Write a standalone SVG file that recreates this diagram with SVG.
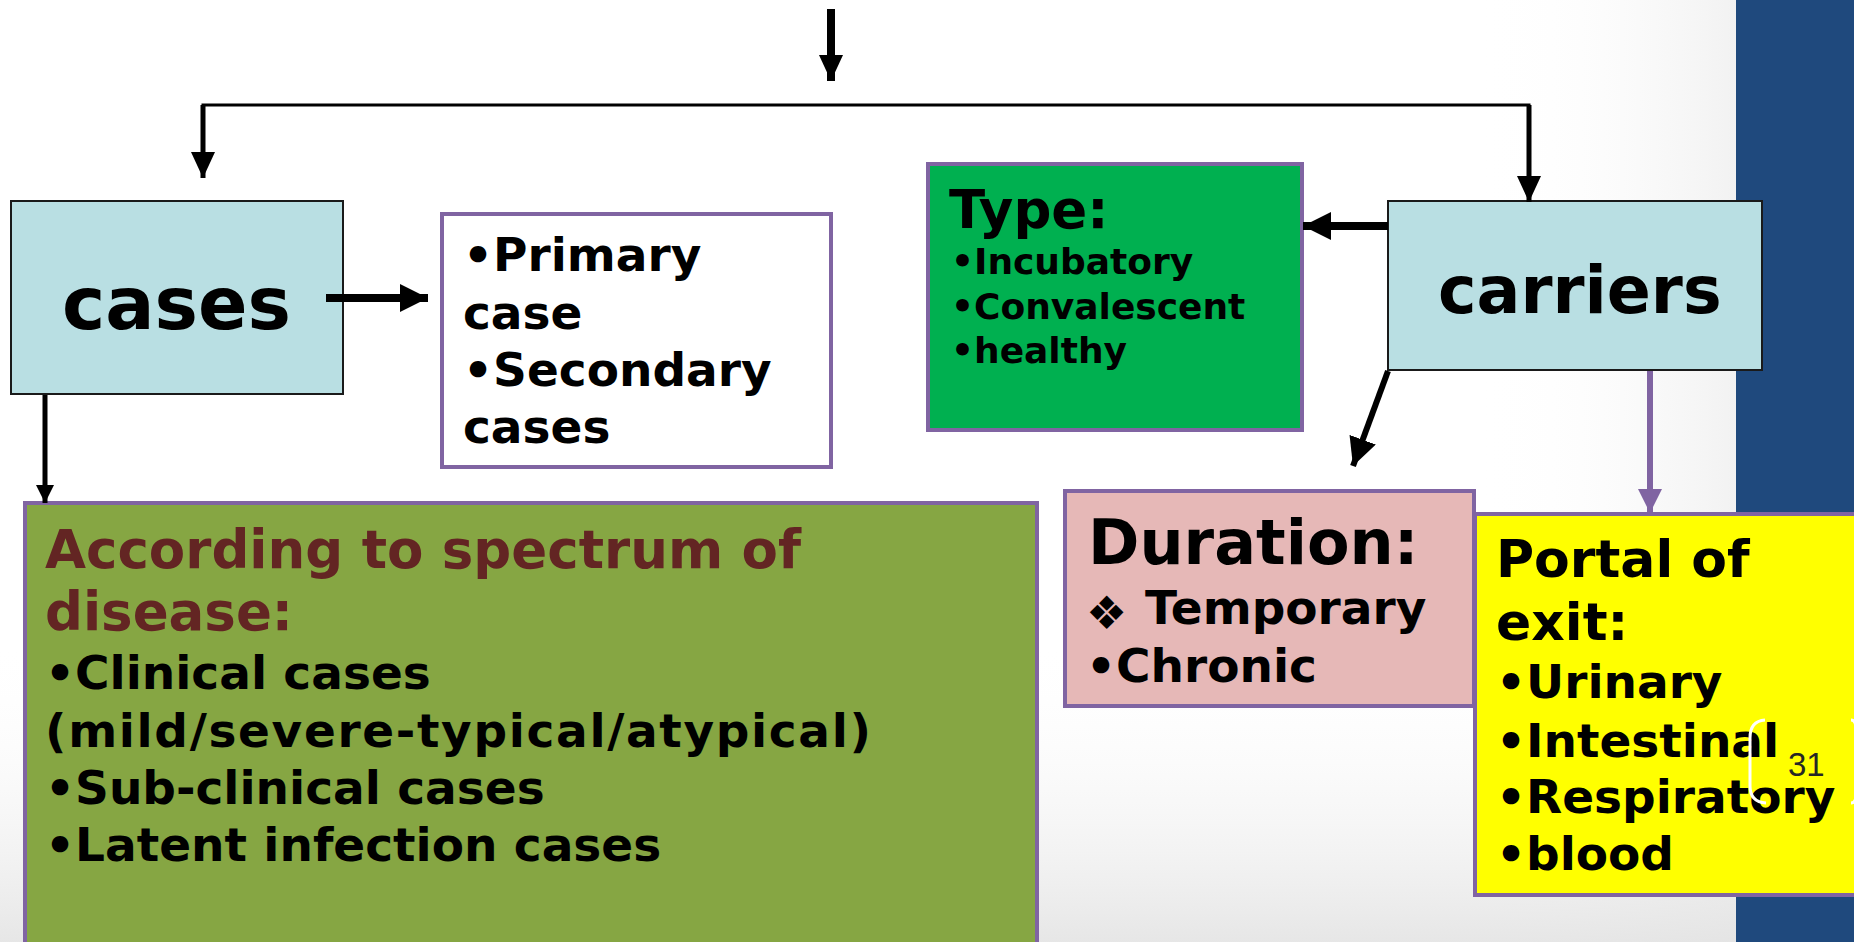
<svg xmlns="http://www.w3.org/2000/svg" width="1854" height="942" viewBox="0 0 1854 942">
  <defs>
    <linearGradient id="bgRight" x1="0" y1="0" x2="1" y2="0">
      <stop offset="0" stop-color="#ffffff" stop-opacity="0"/>
      <stop offset="1" stop-color="#f2f2f2" stop-opacity="1"/>
    </linearGradient>
    <linearGradient id="bgBottom" x1="0" y1="0" x2="0" y2="1">
      <stop offset="0" stop-color="#ffffff" stop-opacity="0"/>
      <stop offset="1" stop-color="#e2e2e2" stop-opacity="1"/>
    </linearGradient>
    <marker id="headBig" markerUnits="userSpaceOnUse" markerWidth="28" markerHeight="28" viewBox="0 0 26 26" refX="26" refY="13" orient="auto">
      <path d="M0,0 L26,13 L0,26 Z" fill="#000"/>
    </marker>
    <marker id="headMid" markerUnits="userSpaceOnUse" markerWidth="26" markerHeight="24" viewBox="0 0 26 24" refX="26" refY="12" orient="auto">
      <path d="M0,0 L26,12 L0,24 Z" fill="#000"/>
    </marker>
    <marker id="headSmall" markerUnits="userSpaceOnUse" markerWidth="18" markerHeight="18" viewBox="0 0 18 18" refX="18" refY="9" orient="auto">
      <path d="M0,0 L18,9 L0,18 Z" fill="#000"/>
    </marker>
    <marker id="headPurple" markerUnits="userSpaceOnUse" markerWidth="24" markerHeight="24" viewBox="0 0 24 24" refX="24" refY="12" orient="auto">
      <path d="M0,0 L24,12 L0,24 Z" fill="#8064a2"/>
    </marker>
    <style>
      .t { font-family: "DejaVu Sans", Verdana, sans-serif; font-weight: bold; fill: #000; }
      .box { stroke: #8064a2; stroke-width: 4; }
      .lb { fill: #b9dfe3; stroke: #1a1a1a; stroke-width: 2; }
      .blk { stroke: #000; fill: none; }
    </style>
  </defs>

  <!-- background -->
  <rect x="0" y="0" width="1854" height="942" fill="#ffffff"/>
  <rect x="1480" y="0" width="256" height="942" fill="url(#bgRight)"/>
  <rect x="0" y="640" width="1736" height="302" fill="url(#bgBottom)" opacity="0.85"/>
  <rect x="1736" y="0" width="118" height="942" fill="#1f497d"/>

  <!-- cases -->
  <g id="node-cases">
    <rect x="11" y="201" width="332" height="193" class="lb"/>
    <text x="62" y="329" class="t" font-size="73">cases</text>
  </g>

  <!-- primary/secondary -->
  <g id="node-primary">
    <rect x="442" y="214" width="389" height="253" fill="#ffffff" class="box"/>
    <text class="t" font-size="47">
      <tspan x="463" y="271">•Primary</tspan>
      <tspan x="463" y="329">case</tspan>
      <tspan x="463" y="386">•Secondary</tspan>
      <tspan x="463" y="443">cases</tspan>
    </text>
  </g>

  <!-- type -->
  <g id="node-type">
    <rect x="928" y="164" width="374" height="266" fill="#00b050" class="box"/>
    <text x="949" y="228" class="t" font-size="53">Type:</text>
    <text class="t" font-size="36">
      <tspan x="951" y="274">•Incubatory</tspan>
      <tspan x="951" y="319">•Convalescent</tspan>
      <tspan x="951" y="363">•healthy</tspan>
    </text>
  </g>

  <!-- carriers -->
  <g id="node-carriers">
    <rect x="1388" y="201" width="374" height="169" class="lb"/>
    <text x="1438" y="313" class="t" font-size="65">carriers</text>
  </g>

  <!-- spectrum -->
  <g id="node-spectrum">
    <rect x="25" y="503" width="1012" height="460" fill="#86a643" class="box"/>
    <text class="t" font-size="53" style="fill:#632523">
      <tspan x="45" y="568">According to spectrum of</tspan>
      <tspan x="45" y="630">disease:</tspan>
    </text>
    <text x="45" y="689" class="t" font-size="47">•Clinical cases</text>
    <text x="45" y="747" class="t" font-size="47" textLength="826" lengthAdjust="spacing">(mild/severe-typical/atypical)</text>
    <text class="t" font-size="47">
      <tspan x="45" y="804">•Sub-clinical cases</tspan>
      <tspan x="45" y="861">•Latent infection cases</tspan>
    </text>
  </g>

  <!-- duration -->
  <g id="node-duration">
    <rect x="1065" y="491" width="409" height="215" fill="#e6b8b7" class="box"/>
    <text x="1088" y="564" class="t" font-size="62">Duration:</text>
    <text x="1086" y="629" class="t" font-size="46">❖</text>
    <text x="1145" y="624" class="t" font-size="47">Temporary</text>
    <text x="1086" y="682" class="t" font-size="47">•Chronic</text>
  </g>

  <!-- portal -->
  <g id="node-portal">
    <rect x="1475" y="514" width="400" height="381" fill="#ffff00" class="box"/>
    <text class="t" font-size="52">
      <tspan x="1496" y="577">Portal of</tspan>
      <tspan x="1496" y="640">exit:</tspan>
    </text>
    <text class="t" font-size="47">
      <tspan x="1496" y="698">•Urinary</tspan>
      <tspan x="1496" y="757">•Intestinal</tspan>
      <tspan x="1496" y="813">•Respiratory</tspan>
      <tspan x="1496" y="870">•blood</tspan>
    </text>
  </g>

  <!-- connectors -->
  <g id="connectors">
    <line x1="831" y1="9" x2="831" y2="81" class="blk" stroke-width="8" marker-end="url(#headMid)"/>
    <polyline points="203,160 203,105 1529,105 1529,180" class="blk" stroke-width="3"/>
    <line x1="203" y1="105" x2="203" y2="178" class="blk" stroke-width="5" marker-end="url(#headMid)"/>
    <line x1="1529" y1="105" x2="1529" y2="202" class="blk" stroke-width="5" marker-end="url(#headMid)"/>
    <line x1="326" y1="298" x2="428" y2="298" class="blk" stroke-width="8" marker-end="url(#headBig)"/>
    <line x1="1388" y1="226" x2="1303" y2="226" class="blk" stroke-width="8" marker-end="url(#headBig)"/>
    <line x1="45" y1="395" x2="45" y2="503" class="blk" stroke-width="5" marker-end="url(#headSmall)"/>
    <line x1="1388" y1="371" x2="1353" y2="466" class="blk" stroke-width="6" marker-end="url(#headBig)"/>
    <line x1="1650" y1="371" x2="1650" y2="513" stroke="#8064a2" stroke-width="6" marker-end="url(#headPurple)"/>
  </g>

  <!-- slide number placeholder -->
  <g id="slide-number">
    <path d="M1765,720 Q1750,721 1750,738 L1750,786 Q1750,802 1766,803" fill="none" stroke="#ffffff" stroke-width="3"/>
    <path d="M1851,720 Q1856,720 1856,730 M1856,795 Q1856,803 1851,803" fill="none" stroke="#ffffff" stroke-width="3"/>
    <text x="1788" y="776" font-family="Liberation Sans, Arial, sans-serif" font-size="33" fill="#262626">31</text>
  </g>
</svg>
